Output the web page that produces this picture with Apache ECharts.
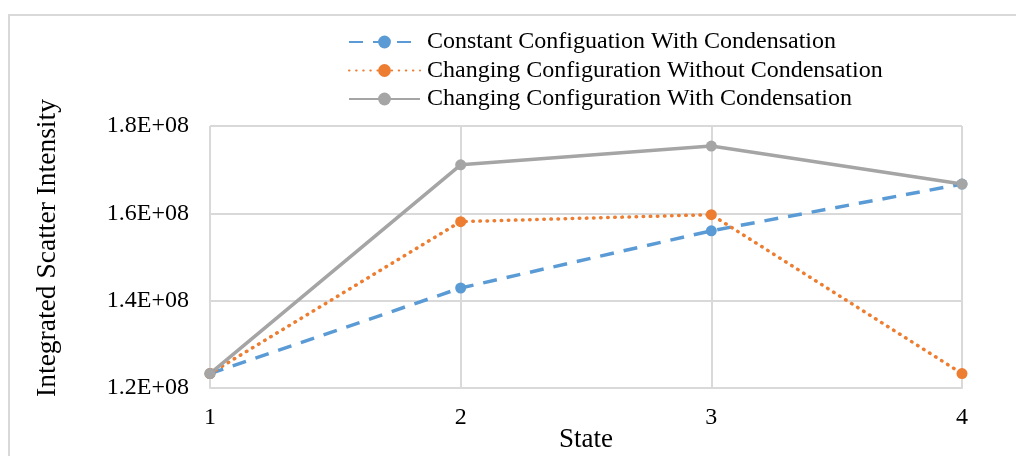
<!DOCTYPE html>
<html>
<head>
<meta charset="utf-8">
<script src="https://cdn.jsdelivr.net/npm/echarts@6/dist/echarts.min.js"></script>
<style>
  html, body { margin: 0; padding: 0; background: #fff; }
  #chart { width: 1016px; height: 456px; }
</style>
</head>
<body>
<div id="chart"></div>
<script>
// States along the x axis
const states = ['1', '2', '3', '4'];

// Integrated scatter intensity per state
const constantWithCondensation = [1.233e8, 1.429e8, 1.560e8, 1.667e8];
const changingWithoutCondensation = [1.233e8, 1.581e8, 1.597e8, 1.233e8];
const changingWithCondensation = [1.233e8, 1.711e8, 1.754e8, 1.667e8];

// Y axis ticks (1.2E+08 .. 1.8E+08)
const yMin = 1.2e8;
const yMax = 1.8e8;
const yStep = 0.2e8;

const seriesNames = [
  'Constant Configuation With Condensation',
  'Changing Configuration Without Condensation',
  'Changing Configuration With Condensation'
];

const fontFamily = '"Liberation Serif", "Times New Roman", serif';
const gridColor = '#d9d9d9';

const chart = echarts.init(document.getElementById('chart'), null, { renderer: 'canvas' });

chart.setOption({
  animation: false,
  backgroundColor: '#fff',
  textStyle: { fontFamily: fontFamily, color: '#000' },
  graphic: [{
    type: 'rect',
    shape: { x: 9, y: 15, width: 1100, height: 500 },
    style: { fill: 'none', stroke: gridColor, lineWidth: 2 },
    silent: true,
    z: -10
  }],
  grid: {
    left: 210, right: 54, top: 126, bottom: 68,
    containLabel: false,
    outerBoundsMode: 'none'
  },
  legend: {
    orient: 'vertical',
    left: 348,
    top: 30,
    itemWidth: 71,
    itemHeight: 16,
    itemGap: 4.5,
    padding: 0,
    textStyle: { fontFamily: fontFamily, fontSize: 24, color: '#000', padding: [0, 0, 0, 2] },
    data: seriesNames
  },
  xAxis: {
    type: 'category',
    data: states,
    boundaryGap: false,
    name: 'State',
    nameLocation: 'middle',
    nameGap: 38,
    nameMoveOverlap: false,
    nameTextStyle: { fontFamily: fontFamily, fontSize: 27, color: '#000' },
    axisLine: { show: true, lineStyle: { color: gridColor, width: 2 } },
    axisTick: { show: false },
    axisLabel: { margin: 18, fontSize: 24, color: '#000', fontFamily: fontFamily },
    splitLine: { show: true, lineStyle: { color: gridColor, width: 2 } }
  },
  yAxis: {
    type: 'value',
    min: yMin,
    max: yMax,
    interval: yStep,
    name: 'Integrated Scatter Intensity',
    nameLocation: 'middle',
    nameGap: 148,
    nameMoveOverlap: false,
    nameTextStyle: { fontFamily: fontFamily, fontSize: 27.5, color: '#000', padding: [0, 0, 0, 18] },
    axisLine: { show: false },
    axisTick: { show: false },
    axisLabel: {
      margin: 21,
      fontSize: 24,
      color: '#000',
      fontFamily: fontFamily,
      formatter: function (v) { return (v / 1e8).toFixed(1) + 'E+08'; }
    },
    splitLine: { show: true, lineStyle: { color: gridColor, width: 2 } }
  },
  series: [
    {
      name: seriesNames[0],
      type: 'line',
      data: constantWithCondensation,
      symbol: 'circle',
      symbolSize: 11,
      itemStyle: { color: '#5B9BD5' },
      lineStyle: { color: '#5B9BD5', width: 3.5, type: [14, 10] }
    },
    {
      name: seriesNames[1],
      type: 'line',
      data: changingWithoutCondensation,
      symbol: 'circle',
      symbolSize: 11,
      itemStyle: { color: '#ED7D31' },
      lineStyle: { color: '#ED7D31', width: 3.5, type: [0.5, 6.6], cap: 'round' }
    },
    {
      name: seriesNames[2],
      type: 'line',
      data: changingWithCondensation,
      symbol: 'circle',
      symbolSize: 11,
      itemStyle: { color: '#A5A5A5' },
      lineStyle: { color: '#A5A5A5', width: 3.5 }
    }
  ]
});
</script>
</body>
</html>
